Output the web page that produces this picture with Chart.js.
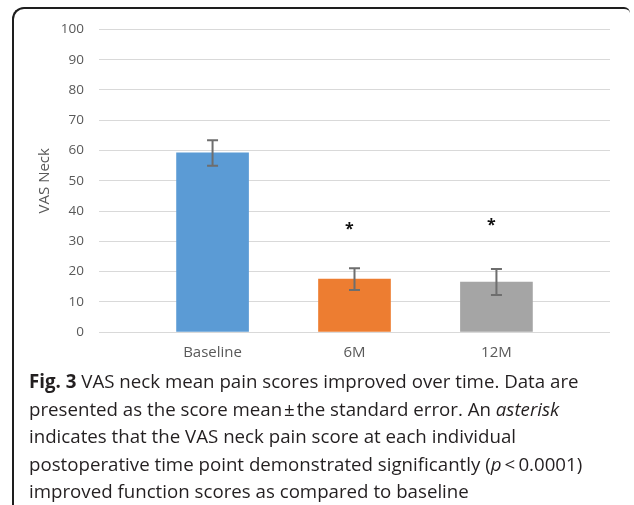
<!DOCTYPE html>
<html>
<head>
<meta charset="utf-8">
<script src="https://cdn.jsdelivr.net/npm/chart.js@4"></script>
<style>
html,body{margin:0;padding:0;background:#fff;}
body{width:634px;height:505px;position:relative;overflow:hidden;}
#frame{position:absolute;left:12px;top:7px;width:618px;height:520px;border-left:2px solid #1e1e1e;border-top:2px solid #1e1e1e;border-top-left-radius:12px;border-top-right-radius:6px;box-sizing:border-box;}
#wrap{position:absolute;left:0;top:0;width:634px;height:505px;}
#caption{position:absolute;left:29px;top:367px;font-family:'Open Sans',sans-serif;font-size:18.7px;line-height:27.5px;color:#231f20;white-space:nowrap;}
#caption b{font-weight:700;}
</style>
</head>
<body>
<div id="frame"></div>
<div id="wrap"><canvas id="c"></canvas></div>
<div id="caption"><b>Fig. 3</b> VAS neck mean pain scores improved over time. Data are<br>presented as the score mean&#8202;±&#8202;the standard error. An <i>asterisk</i><br>indicates that the VAS neck pain score at each individual<br>postoperative time point demonstrated significantly (<i>p</i>&#8201;&lt;&#8201;0.0001)<br>improved function scores as compared to baseline</div>
<script>
// ---- data ----
const categories = ['Baseline', '6M', '12M'];
const means = [59.2, 17.5, 16.5];
const stdErrors = [4.2, 3.6, 4.3];
const asteriskLevels = [null, 35.0, 36.4];
const yTicks = [0, 10, 20, 30, 40, 50, 60, 70, 80, 90, 100];
const barColors = ['#5b9bd5', '#ed7d31', '#a5a5a5'];

const textColor = '#595959';

const overlayPlugin = {
  id: 'overlay',
  afterDatasetsDraw(chart) {
    const {ctx, scales: {x, y}} = chart;
    ctx.save();
    ctx.strokeStyle = '#6e6e6e';
    ctx.lineWidth = 2;
    means.forEach((m, i) => {
      const px = x.getPixelForValue(i);
      const top = y.getPixelForValue(m + stdErrors[i]);
      const bot = y.getPixelForValue(m - stdErrors[i]);
      ctx.beginPath();
      ctx.moveTo(px, top); ctx.lineTo(px, bot);
      ctx.moveTo(px - 5.5, top); ctx.lineTo(px + 5.5, top);
      ctx.moveTo(px - 5.5, bot); ctx.lineTo(px + 5.5, bot);
      ctx.stroke();
    });
    ctx.fillStyle = '#111';
    ctx.font = 'bold 16px "Open Sans"';
    ctx.textAlign = 'left';
    ctx.textBaseline = 'alphabetic';
    asteriskLevels.forEach((lv, i) => {
      if (lv === null) return;
      const m = ctx.measureText('*');
      const cx = x.getPixelForValue(i) - 5;
      const cy = y.getPixelForValue(lv);
      const bx = cx - (m.actualBoundingBoxRight - m.actualBoundingBoxLeft) / 2;
      const by = cy + (m.actualBoundingBoxAscent - m.actualBoundingBoxDescent) / 2;
      ctx.fillText('*', bx + m.actualBoundingBoxLeft, by);
    });
    ctx.restore();
  }
};

new Chart(document.getElementById('c'), {
  type: 'bar',
  data: {
    datasets: [{
      data: means.map((m, i) => ({x: i, y: m})),
      backgroundColor: barColors,
      barThickness: 72,
      borderWidth: 0
    }]
  },
  options: {
    responsive: true,
    maintainAspectRatio: false,
    animation: false,
    layout: {padding: {top: 29.5, right: 24, bottom: 0, left: 0}},
    plugins: {legend: {display: false}, tooltip: {enabled: false}},
    scales: {
      x: {
        type: 'linear',
        offset: false,
        min: -0.8,
        max: 2.8,
        grid: {display: false, offset: false},
        border: {display: false},
        afterBuildTicks: (s) => { s.ticks = categories.map((_, i) => ({value: i})); },
        afterFit: (s) => { s.height = 173; },
        ticks: {
          callback: (v) => categories[v],
          font: {family: 'Open Sans', size: 15},
          color: textColor,
          padding: 4,
          maxRotation: 0,
          autoSkip: false
        }
      },
      y: {
        min: 0,
        max: 100,
        afterBuildTicks: (s) => { s.ticks = yTicks.map(v => ({value: v})); },
        afterFit: (s) => { s.width = 99; },
        grid: {color: '#d9d9d9', lineWidth: 1, drawTicks: false},
        border: {display: false},
        ticks: {
          font: {family: 'Open Sans', size: 13.5},
          color: textColor,
          padding: 15
        },
        title: {
          display: true,
          text: 'VAS Neck',
          font: {family: 'Open Sans', size: 15},
          color: textColor,
          padding: {top: 36, bottom: 0}
        }
      }
    }
  },
  plugins: [overlayPlugin]
});
</script>
</body>
</html>
